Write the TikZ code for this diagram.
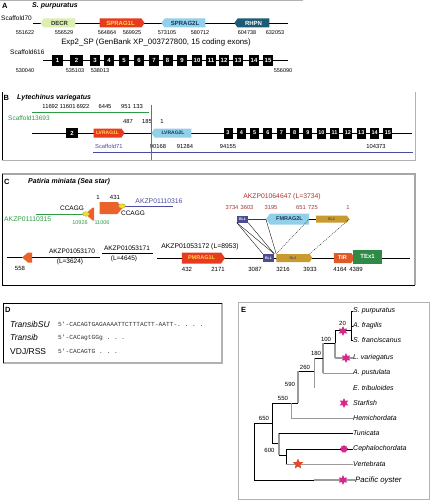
\documentclass[tikz,border=0pt]{standalone}
\usepackage{fontspec}
\setmainfont{Liberation Sans}
\setmonofont{Liberation Mono}
\usetikzlibrary{shapes.symbols,shapes.geometric}
\definecolor{decr}{HTML}{DCEEB0}
\definecolor{ragred}{HTML}{E63B1F}
\definecolor{ragyel}{HTML}{FFD84A}
\definecolor{ragblue}{HTML}{92D0EA}
\definecolor{navyt}{HTML}{17375E}
\definecolor{rhpn}{HTML}{1C5C74}
\definecolor{grn}{HTML}{2F9A44}
\definecolor{blu}{HTML}{4A4AA0}
\definecolor{pinkred}{HTML}{E0356E}
\definecolor{orng}{HTML}{E8622A}
\definecolor{ylw}{HTML}{F0DC3A}
\definecolor{brred}{HTML}{A8342E}
\definecolor{rlblue}{HTML}{4C4C94}
\definecolor{rlgold}{HTML}{C99A30}
\definecolor{tirred}{HTML}{E05A28}
\definecolor{texgrn}{HTML}{2F8A47}
\definecolor{mag}{HTML}{D4288C}
\definecolor{starred}{HTML}{E5472A}
\definecolor{tgray}{HTML}{9A9A9A}
\newcommand\fs[1]{\fontsize{#1}{#1}\selectfont}
\tikzset{
  txt/.style={inner sep=0pt, font=\fs{5}},
  num/.style={inner sep=0pt, font=\fs{5.5}},
  ptl/.style={inner sep=0pt, anchor=west, font=\fs{7.5}\bfseries},
  ttl/.style={inner sep=0pt, anchor=west, font=\fs{7}\bfseries\itshape},
  gene/.style={signal, inner xsep=0.5pt, inner ysep=0pt, minimum height=9, font=\fs{6}\bfseries, signal pointer angle=110},
  gR/.style={gene, signal to=east},
  gL/.style={gene, signal to=west},
  exon/.style={fill=black, text=white, inner sep=0pt, minimum width=10, minimum height=11, font=\fs{6}\bfseries},
  rlbox/.style={fill=rlblue, text=white, inner sep=0pt, minimum width=11, minimum height=7, font=\fs{3.5}\bfseries},
  rlarr/.style={signal, signal to=east, fill=rlgold, text=black!70, inner xsep=1pt, inner ysep=0pt, minimum height=7, font=\fs{3.5}\bfseries, signal pointer angle=110},
  spc/.style={inner sep=0pt, anchor=west, font=\fs{7}\itshape},
  bnum/.style={inner sep=0pt, font=\fs{6}},
  tline/.style={line width=0.5, black},
  gline/.style={line width=1.4, tgray},
  glthin/.style={line width=0.6, tgray},
  mstar/.style={star, star points=6, star point ratio=2, fill=mag, minimum size=10, inner sep=0pt},
}
\begin{document}
\begin{tikzpicture}[x=1pt,y=-1pt]
\useasboundingbox (0,0) rectangle (430,500);
% ---------------- Panel A ----------------
\draw[gray!60, line width=1] (0,0.6) -- (303,0.6);
\node[ptl] (lA) at (2,6) {A};
\node[ttl] (tA) at (32,6) {S. purpuratus};
\node[txt, anchor=west, font=\fs{6.5}] (s70) at (1,18) {Scaffold70};
\coordinate (s70a) at (33,23); \coordinate (s70b) at (288,23);
\draw[line width=0.7] (s70a) -- (s70b);
\node[gL, fill=decr, text=black!80, minimum width=35] (decr) at (59.5,23) {DECR};
\node[gR, fill=ragred, text=ragyel, minimum width=45] (sp1) at (120.5,23) {SPRAG1L};
\node[gL, fill=ragblue, text=navyt, minimum width=44] (sp2) at (185,23) {SPRAG2L};
\node[gL, fill=rhpn, text=white, minimum width=35] (rhpn) at (253.5,23) {RHPN};
\foreach \n/\x in {551622/25,556529/64,564864/107,569925/132,573105/167,580712/200,604738/247,632053/275}
  \node[num] (na\n) at (\x,33) {\n};
\node[txt, font=\fs{7.8}] (exp) at (156,42.5) {Exp2\_SP (GenBank XP\_003727800, 15 coding exons)};
\node[txt, anchor=west, font=\fs{6.5}] (s616) at (10,52) {Scaffold616};
\coordinate (s616a) at (43,60); \coordinate (s616b) at (288,60);
\draw[line width=0.7] (s616a) -- (s616b);
\foreach \i/\x/\w in {1/57.5/11,2/76.5/13,3/95/10,4/109/10,5/124/10,6/139/10,7/154/10,8/167.5/10,9/182/10,10/197/10,11/211/10,12/224/10,13/238/10,14/254/10,15/268/10}
  \node[exon, minimum width=\w] (ea\i) at (\x,60.5) {\i};
\foreach \n/\x in {530040/25,535103/75,538013/100,556090/283}
  \node[num] (nb\n) at (\x,71) {\n};
% ---------------- Panel B ----------------
\draw[gray!60, line width=1] (2,160) -- (415,160) -- (415,92);
\draw[black, line width=1] (2,92) -- (2,160);
\node[ptl] (lB) at (3.5,98) {B};
\node[ttl] (tB) at (17,98) {Lytechinus variegatus};
\foreach \n/\x [count=\k] in {11692 11601/59,6922/83,6445/105,951/126,133/138}
  \node[num, font=\fs{5.8}] (nc\k) at (\x,107) {\n};
\coordinate (ga) at (32,113); \coordinate (gb) at (149,113);
\draw[grn, line width=1] (ga) -- (gb);
\node[txt, anchor=west, text=grn, font=\fs{6.5}] (sc13) at (8,118.5) {Scaffold13693};
\foreach \n/\x in {487/128,185/147,1/162}
  \node[num, font=\fs{5.8}] (nd\n) at (\x,122) {\n};
\coordinate (bm1) at (32,133); \coordinate (bm2) at (412,133);
\draw[line width=0.7] (bm1) -- (bm2);
\node[exon, minimum width=12, minimum height=10] (eb2) at (72,133) {2};
\node[gR, fill=ragred, text=ragyel, minimum width=31, font=\fs{5}\bfseries] (lv1) at (107.5,133) {LVRAG1L};
\node[gL, fill=ragblue, text=navyt, minimum width=40, font=\fs{5}\bfseries] (lv2) at (173,133) {LVRAG2L};
\foreach \i in {3,...,15}
  \node[exon, minimum width=9, font=\fs{5.5}\bfseries] (eb\i) at ({228+13.33*(\i-3)},133) {\i};
\node[txt, anchor=west, text=blu, font=\fs{5.8}] (sc71) at (95,146.5) {Scaffold71};
\foreach \n/\x in {90168/158,91284/185,94155/228,104373/376}
  \node[num, font=\fs{5.8}] (ne\n) at (\x,146.5) {\n};
\coordinate (ba) at (93,152); \coordinate (bb) at (413,152);
\draw[blu, line width=1] (ba) -- (bb);
\coordinate (ra) at (151,105); \coordinate (rb) at (151,160);
\draw[pinkred, line width=1] (ra) -- (rb);
% ---------------- Panel C ----------------
\draw[gray!70, line width=1.2] (2,174) -- (415,174) -- (415,285);
\draw[black, line width=1] (2,174) -- (2,285) -- (415,285);
\node[ptl] (lC) at (4,182) {C};
\node[ttl] (tC) at (28,182) {Patiria miniata (Sea star)};
\coordinate (g2a) at (36,214); \coordinate (g2b) at (84,214);
\draw[grn, line width=1] (g2a) -- (g2b);
\node[txt, anchor=west, text=grn, font=\fs{6.8}] (ak315) at (4,219.5) {AKZP01110315};
\node[txt, font=\fs{6.5}] (cc1) at (72,208) {CCAGG};
\node[signal, signal to=west, fill=orng, minimum width=9, minimum height=13, inner sep=0pt, signal pointer angle=80] (ol) at (93.5,214) {};
\node[ellipse, fill=ylw, draw=ylw!70!black, line width=0.3, minimum width=7, minimum height=4.5, inner sep=0pt] (y1) at (86,214) {};
\node[signal, signal to=east, fill=orng, minimum width=23, minimum height=12, inner sep=0pt, signal pointer angle=100] (orb) at (108.5,208) {};
\node[num, font=\fs{6}] (n1c) at (98,197.5) {1};
\node[num, font=\fs{6}] (n431) at (115,197.5) {431};
\coordinate (b2a) at (124,206.5); \coordinate (b2b) at (173,206.5);
\draw[blu, line width=1] (b2a) -- (b2b);
\node[ellipse, fill=ylw, draw=ylw!70!black, line width=0.3, minimum width=7, minimum height=4.5, inner sep=0pt] (y2) at (122,206) {};
\node[txt, font=\fs{6.5}] (cc2) at (133,213.5) {CCAGG};
\node[txt, text=blu, font=\fs{6.8}] (ak316) at (159,201.5) {AKZP01110316};
\node[num, text=grn, font=\fs{5.5}] (n10926) at (80,222.5) {10926};
\node[num, text=grn, font=\fs{5.5}] (n11006) at (102,222.5) {11006};
% lower scaffolds
\coordinate (la) at (7,257.5); \coordinate (lb) at (100,257.5);
\draw[line width=0.7] (la) -- (lb);
\node[signal, signal to=west, fill=orng, minimum width=10, minimum height=10, inner sep=0pt, signal pointer angle=80] (ol2) at (30,257.5) {};
\node[num, font=\fs{6}] (n558) at (20,268) {558};
\node[txt, font=\fs{6.5}] (ak170) at (72,251.5) {AKZP01053170};
\node[txt, font=\fs{6.5}] (l170) at (70,262) {(L=3624)};
\node[txt, font=\fs{6.5}] (ak171) at (127,248.5) {AKZP01053171};
\coordinate (ua) at (102,253.5); \coordinate (ub) at (153,253.5);
\draw[line width=0.6] (ua) -- (ub);
\node[txt, font=\fs{6.5}] (l171) at (124,259) {(L=4645)};
\node[txt, font=\fs{6.8}] (ak172) at (200,247) {AKZP01053172 (L=8953)};
\coordinate (ma) at (157,258); \coordinate (mb) at (410,258);
\draw[line width=0.8] (ma) -- (mb);
\node[gR, fill=ragred, text=ragyel, minimum width=43, minimum height=11, font=\fs{5.5}\bfseries] (pm1) at (201.5,258) {PMRAG1L};
\node[rlbox, minimum height=8] (rl1l) at (268.5,258) {RL1};
\node[rlarr, minimum width=36, minimum height=8] (rl2l) at (293,258) {RL2};
\node[gR, fill=tirred, text=white, minimum width=21, minimum height=10, font=\fs{5.5}\bfseries] (tir) at (342.5,258) {TIR};
\node[fill=texgrn, text=white, inner sep=0pt, minimum width=29, minimum height=14, font=\fs{6}\bfseries] (tex) at (367.5,256.5) {TEx1};
\foreach \n/\x in {432/187,2171/218,3087/255,3216/283,3933/310,4164/340,4389/356}
  \node[num, font=\fs{6}] (nf\n) at (\x,269) {\n};
% upper element
\node[txt, text=brred, font=\fs{6.8}] (ak647) at (282,197) {AKZP01064647 (L=3734)};
\foreach \n/\x in {3734/232,3603/247,3195/271,651/301,725/313,1/348}
  \node[num, text=brred, font=\fs{5.8}] (ng\n) at (\x,208) {\n};
\node[rlbox] (rl1u) at (242.5,219) {RL1};
\node[gL, fill=ragblue, text=navyt, minimum width=43, minimum height=11, font=\fs{5.5}\bfseries] (fm2) at (289.5,219) {FMRAG2L};
\node[rlarr, minimum width=33] (rl2u) at (331.5,219) {RL2};
\draw[red!75!black, line width=0.9] (rl1u.east) -- (fm2.west);
\draw[line width=0.5] (fm2.east) -- (rl2u.west);
\draw[line width=0.35] (rl1u.south west) -- (rl1l.north west);
\draw[line width=0.35] (rl1u.south east) -- (rl1l.north east);
\draw[line width=0.35] (rl1u.south west) -- (rl1l.north east);
\draw[line width=0.35] (fm2.west) -- (rl2l.north west);
\draw[line width=0.35, dash pattern=on 1pt off 1pt] (fm2.east) -- (rl2l.north west);
\draw[line width=0.35, dash pattern=on 1pt off 1pt] (rl2u.east) -- (rl2l.north east);
% ---------------- Panel D ----------------
\draw[gray!60, line width=1.2] (3,363) -- (222,363) -- (222,303);
\draw[black, line width=1] (3,363) -- (3,303) -- (222,303);
\node[ptl] (lD) at (5,309.5) {D};
\node[inner sep=0pt, anchor=west, font=\fs{8.5}\itshape] (tsu) at (10,324) {TransibSU};
\node[inner sep=0pt, anchor=west, font=\fs{8.5}\itshape] (tr) at (10,337.5) {Transib};
\node[inner sep=0pt, anchor=west, font=\fs{8.5}] (vdj) at (10,351) {VDJ/RSS};
\node[inner sep=0pt, anchor=west, font=\fs{6.2}\ttfamily, text=black!80] (sq1) at (58,324.5) {5'-CACAGTGAGAAAATTCTTTACTT-AATT-. . . .};
\node[inner sep=0pt, anchor=west, font=\fs{6.2}\ttfamily, text=black!80] (sq2) at (58,337.5) {5'-CACagtGGg . . .};
\node[inner sep=0pt, anchor=west, font=\fs{6.2}\ttfamily, text=black!80] (sq3) at (58,351) {5'-CACAGTG . . .};
% ---------------- Panel E ----------------
\draw[gray!60, line width=0.9] (238,302) rectangle (429,499);
\node[ptl] (lE) at (241,310) {E};
\foreach \t/\y [count=\k] in {S. purpuratus/311,A. fragilis/326,S. franciscanus/340,L. variegatus/358,A. pustulata/373,E. tribuloides/388,Starfish/403,Hemichordata/418,Tunicata/433,Cephalochordata/449,Vertebrata/464}
  \node[spc] (lf\k) at (353,\y) {\t};
\node[spc, font=\fs{7.8}\itshape] (lf12) at (355,480) {Pacific oyster};
% node 20
\coordinate (n20t) at (351,311); \coordinate (n20b) at (351,340); \coordinate (n20m) at (351,326); \coordinate (n20j) at (351,330);
\draw[tline] (n20t) -- (n20b);
\draw[tline] (n20t) -- (lf1.west); \draw[tline] (n20m) -- (lf2.west); \draw[tline] (n20b) -- (lf3.west);
\node[bnum] (b20) at (342.5,323) {20};
% node 100
\coordinate (n100t) at (335,330); \coordinate (n100b) at (335,358); \coordinate (n100m) at (335,343);
\draw[tline] (n100t) -- (n20j);
\draw[tline] (n100t) -- (n100m);
\draw[gline] (n100m) -- (n100b);
\draw[gline] (n100b) -- (lf4.west);
\node[bnum] (b100) at (326,339) {100};
% node 180
\coordinate (n180t) at (323,343); \coordinate (n180b) at (323,373); \coordinate (n180j) at (323,358);
\draw[tline] (n180t) -- (n100m);
\draw[gline] (n180t) -- (n180b);
\draw[glthin] (n180b) -- (lf5.west);
\node[bnum] (b180) at (316,353) {180};
% node 260
\coordinate (n260t) at (314,358); \coordinate (n260b) at (314,388); \coordinate (n260j) at (314,371);
\draw[tline] (n260t) -- (n180j);
\draw[glthin] (n260t) -- (n260b);
\node[bnum] (b260) at (305,367.5) {260};
% node 590
\coordinate (n590t) at (298,371); \coordinate (n590b) at (298,403);
\draw[tline] (n590t) -- (n260j);
\draw[gline] (n590t) -- (n590b);
\node[bnum] (b590) at (290,384) {590};
% node 550
\coordinate (n550t) at (291,403); \coordinate (n550b) at (291,418);
\coordinate (ndt) at (272,403); \coordinate (ndb) at (272,443); \coordinate (ndm) at (272,423);
\draw[tline] (ndt) -- (n590b);
\draw[glthin] (n550t) -- (n550b);
\draw[glthin] (n550b) -- (lf8.west);
\node[bnum] (b550) at (283,398.5) {550};
% deuterostome / root
\draw[tline] (ndt) -- (ndb);
\coordinate (rt) at (254,423); \coordinate (rb) at (254,480); \coordinate (rg) at (314,480);
\draw[tline] (rt) -- (ndm);
\draw[tline] (rt) -- (rb) -- (rg);
\draw[gline] (rg) -- (lf12.west);
\node[bnum] (b650) at (264,418) {650};
% node 600
\coordinate (n600t) at (279,433); \coordinate (n600b) at (279,455); \coordinate (n600j) at (279,443);
\draw[tline] (ndb) -- (n600j);
\draw[gline] (n600t) -- (n600b);
\draw[tline] (n600t) -- (lf9.west);
\node[bnum] (b600) at (269.5,450) {600};
% olfactores
\coordinate (not) at (286,449); \coordinate (nob) at (286,464); \coordinate (noj) at (286,455);
\draw[tline] (n600b) -- (noj);
\draw[tline] (not) -- (nob);
\draw[tline] (not) -- (lf10.west);
\draw[glthin] (nob) -- (lf11.west);
% stars
\node[mstar] (st1) at (343,331) {};
\node[mstar] (st2) at (346,358) {};
\node[mstar] (st3) at (344,403) {};
\node[star, star points=9, star point ratio=1.35, fill=mag, minimum size=8, inner sep=0pt] (st4) at (344,449) {};
\node[star, star points=5, star point ratio=2.2, fill=starred, minimum size=11, inner sep=0pt] (st5) at (298,464) {};
\node[mstar] (st6) at (343,480) {};
\end{tikzpicture}
\end{document}
